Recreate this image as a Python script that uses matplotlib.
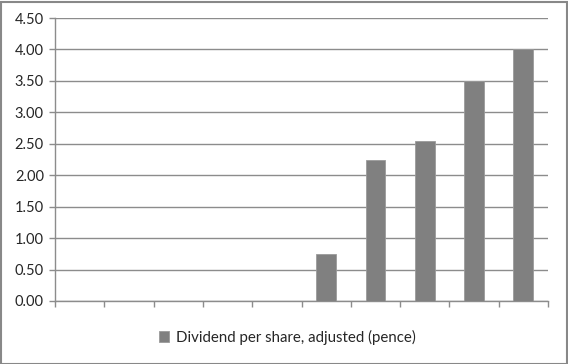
import numpy as np
import matplotlib.pyplot as plt
from matplotlib.patches import Rectangle

# data (10 categories, the first six have no dividend)
categories = ['', '', '', '', '', '', '', '', '', '']
dividend = [np.nan, np.nan, np.nan, np.nan, np.nan, 0.75, 2.24, 2.54, 3.50, 4.00]
yticks = [0.0, 0.5, 1.0, 1.5, 2.0, 2.5, 3.0, 3.5, 4.0, 4.5]
label = 'Dividend per share, adjusted (pence)'

plt.rcParams['font.family'] = ['Lato', 'DejaVu Sans']

W, H = 568, 364
fig = plt.figure(figsize=(W / 100, H / 100), dpi=100)
ax = fig.add_axes([55 / W, 1 - 301 / H, (548 - 55) / W, (301 - 18) / H])

x = np.arange(len(categories))
ax.bar(x, dividend, width=0.4, color='#808080', edgecolor='#9a9a9a', linewidth=0.6,
       zorder=3, label=label)

ax.set_xlim(-0.5, len(categories) - 0.5)
ax.set_ylim(0, 4.5)
ax.set_yticks(yticks)
ax.set_yticklabels(['%.2f' % v for v in yticks], fontsize=10.5, color='#262626')
ax.set_xticks(np.arange(len(categories) + 1) - 0.5)
ax.set_xticklabels([])
ax.yaxis.grid(True, color='#8c8c8c', linewidth=1.0, zorder=0)
for s in ['top', 'right']:
    ax.spines[s].set_visible(False)
for s in ['left', 'bottom']:
    ax.spines[s].set_color('#8c8c8c')
    ax.spines[s].set_linewidth(1.0)
ax.tick_params(axis='both', color='#8c8c8c', length=4, width=1.0)
ax.tick_params(axis='y', pad=4)

fig.legend(loc='center', bbox_to_anchor=(287 / W, 1 - 337 / H), frameon=False,
           fontsize=10.8, handlelength=0.7, handleheight=0.7, handletextpad=0.45,
           labelcolor='#262626')

# chart border
fig.patches.append(Rectangle((0.5 / W, 0.5 / H), 1 - 2 / W, 1 - 2 / H, transform=fig.transFigure,
                             fill=False, edgecolor='#888888', linewidth=1.5))

fig.savefig('out.png', dpi=100)
